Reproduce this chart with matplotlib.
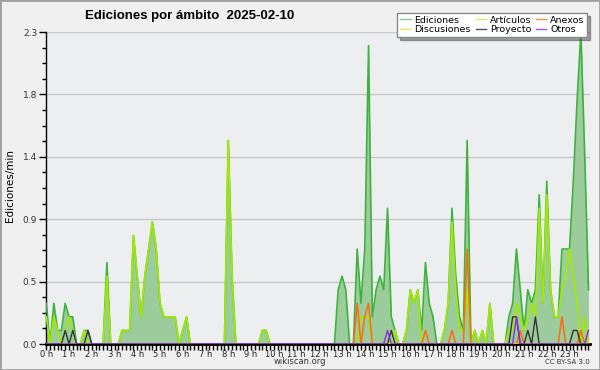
import numpy as np
import matplotlib
matplotlib.use("Agg")
import matplotlib.pyplot as plt
from matplotlib.lines import Line2D
from matplotlib.patches import Rectangle

# edits per minute, one value per 10-minute slot (144 slots = 24 h)
ediciones = [
    0.3, 0, 0.3, 0.1, 0.1, 0.3, 0.2, 0.2, 0, 0, 0.1, 0.1,
    0, 0, 0, 0, 0.6, 0, 0, 0, 0.1, 0.1, 0.1, 0.8,
    0.5, 0.2, 0.5, 0.7, 0.9, 0.7, 0.3, 0.2, 0.2, 0.2, 0.2, 0,
    0.1, 0.2, 0, 0, 0, 0, 0, 0, 0, 0, 0, 0,
    1.5, 0.5, 0, 0, 0, 0, 0, 0, 0, 0.1, 0.1, 0,
    0, 0, 0, 0, 0, 0, 0, 0, 0, 0, 0, 0,
    0, 0, 0, 0, 0, 0.4, 0.5, 0.4, 0, 0, 0.7, 0.3,
    0.7, 2.2, 0.2, 0.4, 0.5, 0.4, 1.0, 0.2, 0.1, 0, 0, 0.1,
    0.4, 0.3, 0.4, 0.1, 0.6, 0.3, 0.2, 0, 0, 0.1, 0.3, 1.0,
    0.5, 0.2, 0.1, 1.5, 0, 0.1, 0, 0.1, 0, 0.3, 0, 0,
    0, 0, 0.2, 0.3, 0.7, 0.4, 0.1, 0.4, 0.3, 0.4, 1.1, 0.3,
    1.2, 0.4, 0.2, 0.2, 0.7, 0.7, 0.7, 1.2, 1.8, 2.3, 1.4, 0.4,
]
articulos = [
    0.2, 0, 0.2, 0.1, 0, 0.1, 0.2, 0.1, 0, 0, 0.1, 0,
    0, 0, 0, 0, 0.5, 0, 0, 0, 0.1, 0.1, 0.1, 0.8,
    0.5, 0.2, 0.5, 0.7, 0.9, 0.7, 0.3, 0.2, 0.2, 0.2, 0.2, 0,
    0.1, 0.2, 0, 0, 0, 0, 0, 0, 0, 0, 0, 0,
    1.5, 0.5, 0, 0, 0, 0, 0, 0, 0, 0.1, 0.1, 0,
    0, 0, 0, 0, 0, 0, 0, 0, 0, 0, 0, 0,
    0, 0, 0, 0, 0, 0, 0, 0, 0, 0, 0, 0.2,
    0.2, 0.2, 0, 0, 0, 0, 0, 0, 0.1, 0, 0, 0.1,
    0.4, 0.3, 0.4, 0, 0, 0, 0, 0, 0, 0.1, 0.3, 0.9,
    0.4, 0.1, 0.1, 0.4, 0, 0.1, 0, 0.1, 0, 0.3, 0, 0,
    0, 0, 0.1, 0.1, 0.3, 0.2, 0.1, 0.2, 0.3, 0.2, 1.0, 0.3,
    1.1, 0.4, 0.2, 0.2, 0.4, 0.5, 0.7, 0.5, 0.3, 0, 0.2, 0,
]
anexos = [
    0, 0, 0, 0, 0, 0, 0, 0, 0, 0, 0, 0,
    0, 0, 0, 0, 0, 0, 0, 0, 0, 0, 0, 0,
    0, 0, 0, 0, 0, 0, 0, 0, 0, 0, 0, 0,
    0, 0, 0, 0, 0, 0, 0, 0, 0, 0, 0, 0,
    0, 0, 0, 0, 0, 0, 0, 0, 0, 0, 0, 0,
    0, 0, 0, 0, 0, 0, 0, 0, 0, 0, 0, 0,
    0, 0, 0, 0, 0, 0, 0, 0, 0, 0, 0.3, 0,
    0.2, 0.3, 0, 0, 0, 0, 0, 0, 0, 0, 0, 0,
    0, 0, 0, 0, 0.1, 0, 0, 0, 0, 0, 0, 0.1,
    0, 0, 0, 0.7, 0, 0, 0, 0, 0, 0, 0, 0,
    0, 0, 0, 0, 0, 0.1, 0, 0, 0, 0, 0, 0,
    0, 0, 0, 0, 0.2, 0, 0, 0, 0, 0.1, 0, 0,
]
discusiones = [0] * 144
proyecto = [
    0, 0, 0, 0, 0, 0.1, 0, 0.1, 0, 0, 0, 0.1,
    0, 0, 0, 0, 0, 0, 0, 0, 0, 0, 0, 0,
    0, 0, 0, 0, 0, 0, 0, 0, 0, 0, 0, 0,
    0, 0, 0, 0, 0, 0, 0, 0, 0, 0, 0, 0,
    0, 0, 0, 0, 0, 0, 0, 0, 0, 0, 0, 0,
    0, 0, 0, 0, 0, 0, 0, 0, 0, 0, 0, 0,
    0, 0, 0, 0, 0, 0, 0, 0, 0, 0, 0, 0,
    0, 0, 0, 0, 0, 0, 0, 0.1, 0, 0, 0, 0,
    0, 0, 0, 0, 0, 0, 0, 0, 0, 0, 0, 0,
    0, 0, 0, 0, 0, 0, 0, 0, 0, 0, 0, 0,
    0, 0, 0, 0.2, 0.2, 0, 0, 0.1, 0, 0.2, 0, 0,
    0, 0, 0, 0, 0, 0, 0, 0.1, 0.1, 0, 0, 0,
]
otros = [
    0, 0, 0, 0, 0, 0, 0, 0, 0, 0, 0, 0,
    0, 0, 0, 0, 0, 0, 0, 0, 0, 0, 0, 0,
    0, 0, 0, 0, 0, 0, 0, 0, 0, 0, 0, 0,
    0, 0, 0, 0, 0, 0, 0, 0, 0, 0, 0, 0,
    0, 0, 0, 0, 0, 0, 0, 0, 0, 0, 0, 0,
    0, 0, 0, 0, 0, 0, 0, 0, 0, 0, 0, 0,
    0, 0, 0, 0, 0, 0, 0, 0, 0, 0, 0, 0,
    0, 0, 0, 0, 0, 0, 0.1, 0, 0, 0, 0, 0,
    0, 0, 0, 0, 0, 0, 0, 0, 0, 0, 0, 0,
    0, 0, 0, 0, 0, 0, 0, 0, 0, 0, 0, 0,
    0, 0, 0, 0, 0.2, 0, 0, 0, 0, 0, 0, 0,
    0, 0, 0, 0, 0, 0, 0, 0, 0, 0, 0, 0.1,
]
hour_labels = [f"{h} h" for h in range(24)]
ytick_vals = [0, 0.46, 0.92, 1.38, 1.84, 2.3]
ytick_labels = ["0.0", "0.5", "0.9", "1.4", "1.8", "2.3"]

fig = plt.figure(figsize=(6, 3.7), dpi=100, facecolor="#f0f0f0")
ax = fig.add_axes([45.5 / 600, 26 / 370, 544.5 / 600, 312 / 370])
ax.set_facecolor("#eceef0")

x = np.arange(len(ediciones))
ax.fill_between(x, ediciones, color="#9ccc9c", lw=0, zorder=2)
ax.plot(x, ediciones, color="#3db33d", lw=1.2, zorder=3)
ax.plot(x, articulos, color="#a2ea00", lw=1.2, zorder=4)
ax.plot(x, anexos, color="#ff6a10", lw=1.1, zorder=5)
ax.plot(x, discusiones, color="#ffcc33", lw=1.1, zorder=5)
ax.plot(x, proyecto, color="#333333", lw=1.0, zorder=6)
ax.plot(x, otros, color="#8a2be2", lw=1.0, zorder=6)

ax.set_xlim(-0.2, 143.4)
ax.set_ylim(0, 2.3)
ax.set_yticks(ytick_vals)
ax.set_yticklabels(ytick_labels)
ax.set_yticks(np.arange(0, 2.31, 0.115), minor=True)
ax.set_xticks(np.arange(0, 144, 6))
ax.set_xticklabels(hour_labels)
ax.set_xticks(np.arange(0, 144, 1), minor=True)
ax.grid(axis="y", which="major", color="#c8c8c8", lw=1, zorder=1)
ax.set_axisbelow(True)

for s in ["top", "right"]:
    ax.spines[s].set_visible(False)
ax.spines["left"].set_linewidth(1)
ax.spines["bottom"].set_linewidth(2)
ax.tick_params(axis="y", which="major", length=5, width=1, labelsize=6.5,
               labelcolor="#333333", pad=1)
ax.tick_params(axis="y", which="minor", length=3, width=1)
ax.tick_params(axis="x", which="major", length=4, width=1, labelsize=6,
               labelcolor="#222222", pad=0)
ax.tick_params(axis="x", which="minor", length=4, width=1)

fig.text(85 / 600, 1 - 16 / 370, "Ediciones por ámbito  2025-02-10",
         fontsize=9.5, fontweight="bold", va="center", ha="left",
         family="Liberation Sans")
fig.text(10 / 600, 0.5, "Ediciones/min", rotation=90, fontsize=7.5,
         va="center", ha="center")
fig.text(300 / 600, 1 - 362 / 370, "wikiscan.org", fontsize=6,
         va="center", ha="center", color="#333333")
fig.text(590 / 600, 1 - 362 / 370, "CC BY-SA 3.0", fontsize=5,
         va="center", ha="right", color="#333333")

handles = [
    Line2D([], [], color="#88cc88", lw=1),
    Line2D([], [], color="#ffdd55", lw=1),
    Line2D([], [], color="#ccee66", lw=1),
    Line2D([], [], color="#555555", lw=1),
    Line2D([], [], color="#ff8844", lw=1),
    Line2D([], [], color="#9955ff", lw=1),
]
labels = ["Ediciones", "Discusiones", "Artículos", "Proyecto", "Anexos", "Otros"]
leg = fig.legend(handles, labels, ncol=3, loc="upper right",
                 bbox_to_anchor=(592 / 600, 1 - 8 / 370),
                 fontsize=6.8, handlelength=1.1, handletextpad=0.4,
                 columnspacing=0.5, labelspacing=0.05, borderpad=0.3,
                 fancybox=False, shadow=True, framealpha=1,
                 edgecolor="#888888")
leg.get_frame().set_linewidth(1)

fig.patches.append(Rectangle((0, 0), 1, 1, transform=fig.transFigure,
                             fill=False, edgecolor="#a0a0a0", lw=2))

fig.savefig("out.png", dpi=100, facecolor=fig.get_facecolor())
